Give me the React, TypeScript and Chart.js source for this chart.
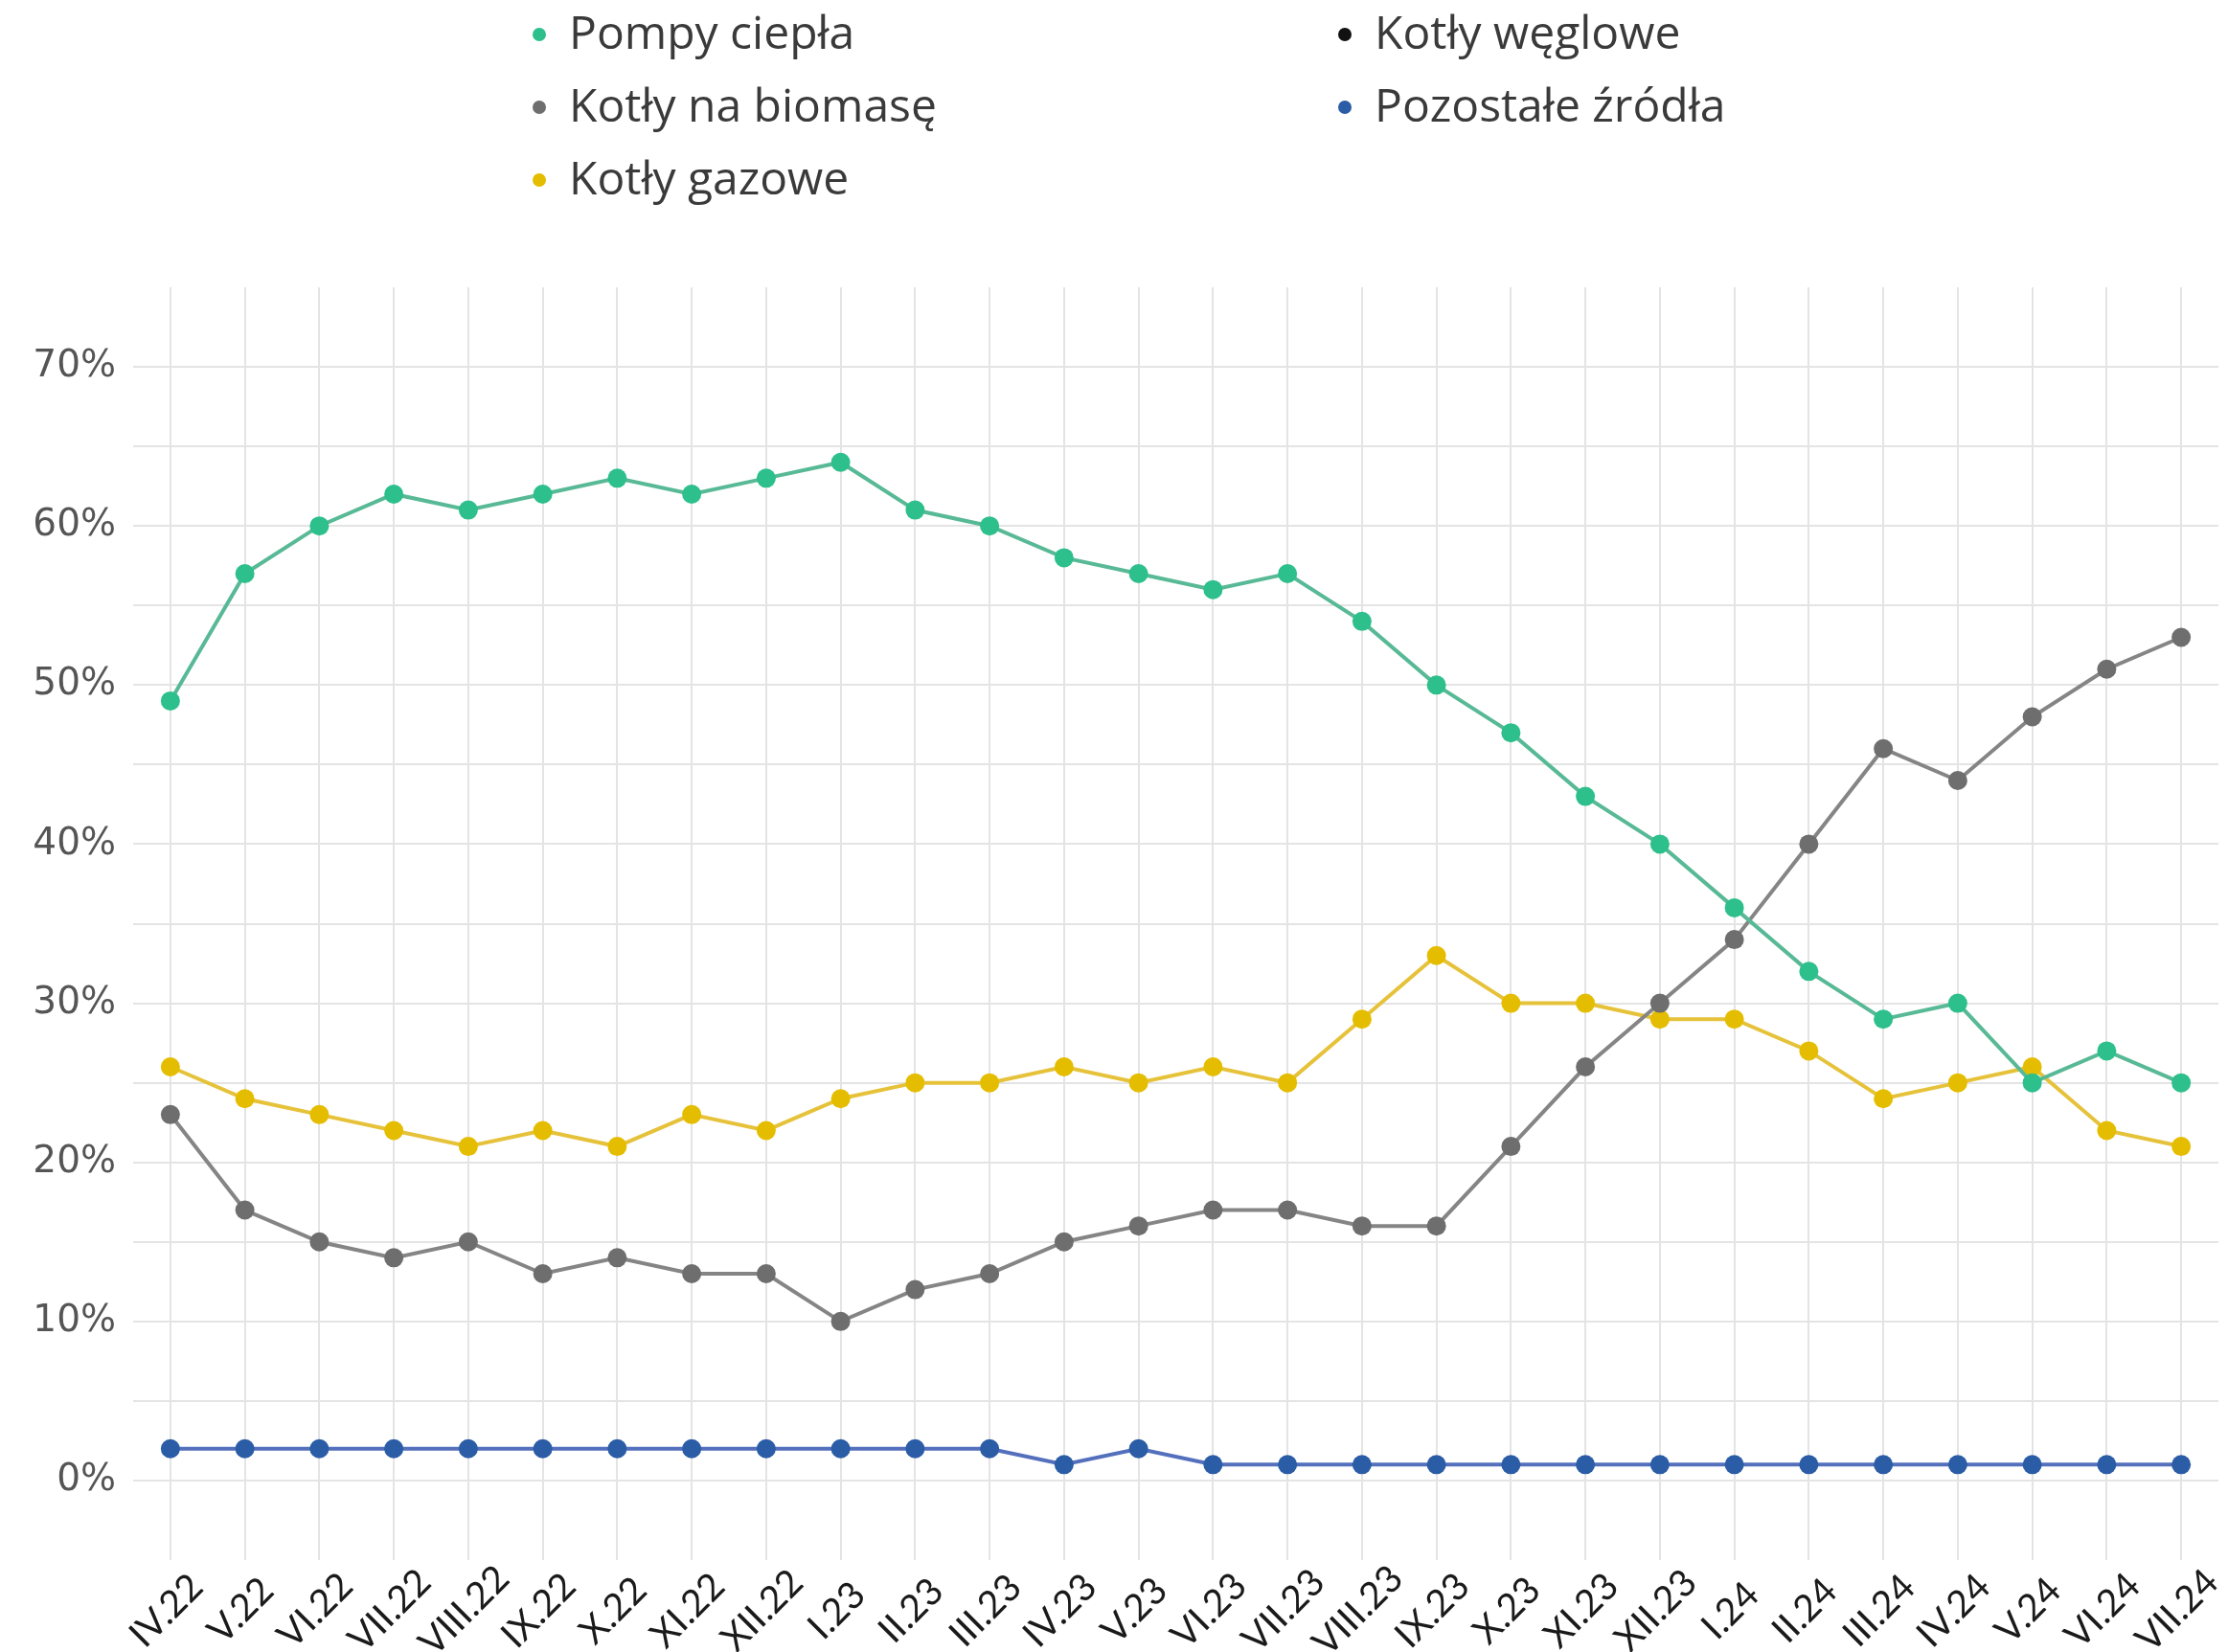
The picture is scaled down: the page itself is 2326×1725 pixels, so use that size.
import React, { useEffect, useRef } from "react";
import { Chart, registerables } from "chart.js";

Chart.register(...registerables);

const months = [
  "IV.22", "V.22", "VI.22", "VII.22", "VIII.22", "IX.22", "X.22", "XI.22", "XII.22",
  "I.23", "II.23", "III.23", "IV.23", "V.23", "VI.23", "VII.23", "VIII.23", "IX.23",
  "X.23", "XI.23", "XII.23", "I.24", "II.24", "III.24", "IV.24", "V.24", "VI.24", "VII.24",
];

const heatPumps = [49, 57, 60, 62, 61, 62, 63, 62, 63, 64, 61, 60, 58, 57, 56, 57, 54, 50, 47, 43, 40, 36, 32, 29, 30, 25, 27, 25];
const coalBoilers: (number | null)[] = [];
const biomassBoilers = [23, 17, 15, 14, 15, 13, 14, 13, 13, 10, 12, 13, 15, 16, 17, 17, 16, 16, 21, 26, 30, 34, 40, 46, 44, 48, 51, 53];
const otherSources = [2, 2, 2, 2, 2, 2, 2, 2, 2, 2, 2, 2, 1, 2, 1, 1, 1, 1, 1, 1, 1, 1, 1, 1, 1, 1, 1, 1];
const gasBoilers = [26, 24, 23, 22, 21, 22, 21, 23, 22, 24, 25, 25, 26, 25, 26, 25, 29, 33, 30, 30, 29, 29, 27, 24, 25, 26, 22, 21];

const seriesNames = ["Pompy ciepła", "Kotły węglowe", "Kotły na biomasę", "Pozostałe źródła", "Kotły gazowe"];
const seriesData = [heatPumps, coalBoilers, biomassBoilers, otherSources, gasBoilers];
const pointColors = ["#2dbf8c", "#111111", "#6e6e6e", "#2b5ca6", "#e5bd00"];
const lineColors = ["#58b996", "#111111", "#858585", "#5470bd", "#e6c23a"];

const yMin = -5;
const yMax = 75;
const yStep = 5;
const yLabelStep = 10;

// legend layout: column-major, 3 rows
const legendCols = [563, 1404];
const legendRows = [32, 108, 184];

// x tick labels drawn centred and rotated (centre point offset from the tick)
const xLabelAngle = -45;
const xLabelDx = -4;
const xLabelCenterY = 1682;

const centeredXLabels = {
  id: "centeredXLabels",
  afterDraw(chart: any) {
    const xs = chart.scales.x;
    const ctx = chart.ctx;
    ctx.save();
    ctx.font = "39px Lato";
    ctx.fillStyle = "#1a1a1a";
    ctx.textAlign = "center";
    ctx.textBaseline = "middle";
    xs.ticks.forEach((_t: any, i: number) => {
      const label = xs.getLabelForValue(xs.ticks[i].value);
      const x = xs.getPixelForTick(i) + xLabelDx;
      ctx.save();
      ctx.translate(x, xLabelCenterY);
      ctx.rotate((xLabelAngle * Math.PI) / 180);
      ctx.fillText(label, 0, 0);
      ctx.restore();
    });
    ctx.restore();
  },
};

export default function App() {
  const canvasRef = useRef<HTMLCanvasElement | null>(null);

  useEffect(() => {
    const canvas = canvasRef.current;
    if (!canvas) return;
    const chart = new Chart(canvas, {
      type: "line",
      data: {
        labels: months,
        datasets: seriesNames.map((name, i) => ({
          label: name,
          data: seriesData[i],
          borderColor: lineColors[i],
          backgroundColor: pointColors[i],
          pointBackgroundColor: pointColors[i],
          pointBorderColor: pointColors[i],
          pointRadius: 10,
          pointBorderWidth: 0,
          borderWidth: 4,
          tension: 0,
          fill: false,
        })),
      },
      plugins: [centeredXLabels],
      options: {
        animation: false,
        responsive: false,
        devicePixelRatio: 1,
        layout: { padding: { top: 300, right: 6, left: 0, bottom: 0 } },
        plugins: {
          legend: { display: false },
          tooltip: { enabled: false },
        },
        scales: {
          x: {
            type: "category",
            offset: true,
            border: { display: false },
            grid: {
              offset: false,
              color: "#e4e4e4",
              lineWidth: 2,
              drawTicks: false,
            },
            ticks: {
              display: false,
              autoSkip: false,
            },
            afterFit: (scale: any) => {
              scale.height = 96;
            },
          },
          y: {
            min: yMin,
            max: yMax,
            border: { display: false },
            grid: {
              color: (ctx: any) =>
                ctx.tick && (ctx.tick.value === yMin || ctx.tick.value === yMax) ? "rgba(0,0,0,0)" : "#e4e4e4",
              lineWidth: 2,
              drawTicks: false,
            },
            ticks: {
              stepSize: yStep,
              padding: 18,
              color: "#555555",
              font: { family: "'DejaVu Sans', sans-serif", size: 39 },
              callback: (v: any) => (Number(v) % yLabelStep === 0 && Number(v) >= 0 ? `${v}%` : ""),
            },
            afterFit: (scale: any) => {
              scale.width = 139;
            },
          },
        },
      },
    });
    return () => chart.destroy();
  }, []);

  return (
    <div style={{ position: "fixed", left: 0, top: 0, width: 2326, height: 1725, background: "#ffffff" }}>
      <canvas ref={canvasRef} width={2326} height={1725} style={{ position: "absolute", left: 0, top: 0, width: 2326, height: 1725 }} />
      {seriesNames.map((name, i) => {
        const col = i % 2;
        const row = Math.floor(i / 2);
        return (
          <div
            key={name}
            style={{
              position: "absolute",
              left: legendCols[col] - 7,
              top: legendRows[row] - 30,
              height: 60,
              display: "flex",
              alignItems: "center",
              fontFamily: "'Open Sans'",
              fontSize: 48,
              color: "#3a3a3a",
              whiteSpace: "nowrap",
            }}
          >
            <span
              style={{
                display: "inline-block",
                width: 14,
                height: 14,
                borderRadius: 7,
                background: pointColors[i],
                marginRight: 24,
                marginTop: 8,
              }}
            />
            <span>{name}</span>
          </div>
        );
      })}
    </div>
  );
}
